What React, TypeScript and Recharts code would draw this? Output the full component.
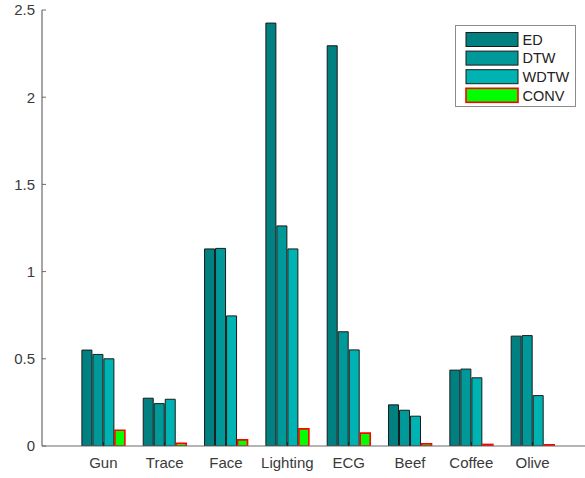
import { Bar, BarChart, XAxis, YAxis } from "recharts";

const categories = ["Gun", "Trace", "Face", "Lighting", "ECG", "Beef", "Coffee", "Olive"];
const edValues = [0.55, 0.274, 1.13, 2.425, 2.295, 0.236, 0.435, 0.63];
const dtwValues = [0.525, 0.243, 1.133, 1.262, 0.655, 0.205, 0.441, 0.633];
const wdtwValues = [0.5, 0.268, 0.746, 1.13, 0.551, 0.171, 0.391, 0.289];
const convValues = [0.09, 0.016, 0.035, 0.098, 0.074, 0.013, 0.009, 0.007];
const yTicks = [0, 0.5, 1, 1.5, 2, 2.5];

const FONT = '"Liberation Sans", Arial, Helvetica, sans-serif';
const AXIS_COLOR = "#6a6a6a";
const TEXT_COLOR = "#3a3a3a";

const series = [
  { key: "ED", fill: "#008080", stroke: "#1a1a1a", strokeWidth: 1 },
  { key: "DTW", fill: "#009999", stroke: "#1a1a1a", strokeWidth: 1 },
  { key: "WDTW", fill: "#00b3b3", stroke: "#1a1a1a", strokeWidth: 1 },
  { key: "CONV", fill: "#00ff00", stroke: "#ff0000", strokeWidth: 1.6 },
];

const data = categories.map((name, i) => ({
  name,
  ED: edValues[i],
  DTW: dtwValues[i],
  WDTW: wdtwValues[i],
  CONV: convValues[i],
}));

function LegendBox() {
  const rowStep = 18.6;
  return (
    <div
      style={{
        position: "absolute",
        left: 455,
        top: 25,
        width: 121,
        height: 82,
        border: "1px solid #8c8c8c",
        background: "#fff",
        boxSizing: "border-box",
      }}
    >
      <svg width={121} height={82} style={{ display: "block", position: "absolute", left: -1, top: -1 }}>
        {series.map((s, i) => {
          const cy = 14.5 + i * rowStep;
          return (
            <g key={s.key}>
              <rect
                x={11}
                y={cy - 7}
                width={52}
                height={14}
                fill={s.fill}
                stroke={s.stroke}
                strokeWidth={s.strokeWidth}
              />
              <text
                x={67.5}
                y={cy + 5.2}
                fontFamily={FONT}
                fontSize={14.5}
                fill="#222"
              >
                {s.key}
              </text>
            </g>
          );
        })}
      </svg>
    </div>
  );
}

export default function App() {
  return (
    <div
      style={{
        position: "absolute",
        left: 0,
        top: 0,
        width: 585,
        height: 478,
        overflow: "hidden",
        background: "#fff",
        fontFamily: FONT,
      }}
    >
      <BarChart
        width={600}
        height={478}
        data={data}
        margin={{ top: 10, right: 6, bottom: 0, left: 0 }}
        barCategoryGap={9.2}
        barGap={1}
      >
        <XAxis
          dataKey="name"
          height={32}
          padding={{ left: 30.7, right: 30.7 }}
          interval={0}
          axisLine={{ stroke: AXIS_COLOR, strokeWidth: 1.2 }}
          tickLine={{ stroke: "#222" }}
          tickSize={-4}
          tickMargin={15}
          tick={{ fill: TEXT_COLOR, fontSize: 15, fontFamily: FONT }}
        />
        <YAxis
          width={42}
          type="number"
          domain={[0, 2.5]}
          ticks={yTicks}
          interval={0}
          allowDataOverflow
          axisLine={{ stroke: AXIS_COLOR, strokeWidth: 1.2 }}
          tickLine={{ stroke: AXIS_COLOR }}
          tickSize={-4}
          tickMargin={11}
          tick={{ fill: TEXT_COLOR, fontSize: 15, fontFamily: FONT }}
        />
        {series.map((s) => (
          <Bar
            key={s.key}
            dataKey={s.key}
            fill={s.fill}
            stroke={s.stroke}
            strokeWidth={s.strokeWidth}
            isAnimationActive={false}
          />
        ))}
      </BarChart>
      <LegendBox />
    </div>
  );
}
